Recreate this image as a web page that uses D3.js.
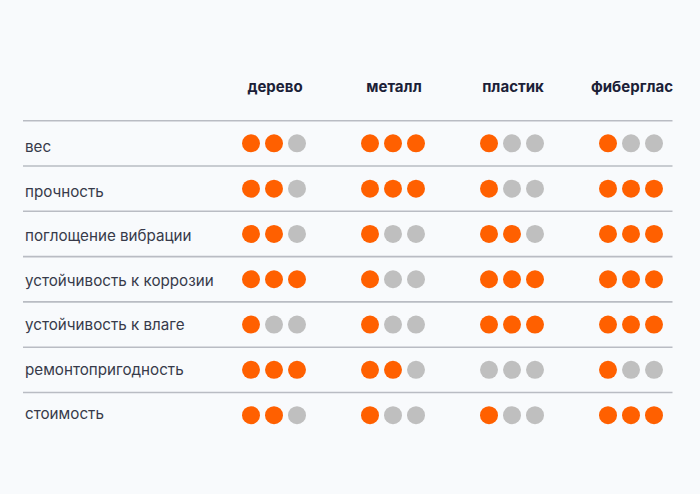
<!DOCTYPE html>
<html>
<head>
<meta charset="utf-8">
<script src="https://cdn.jsdelivr.net/npm/d3@7"></script>
<style>
  html, body { margin: 0; padding: 0; background: #f8fafc; }
  svg { display: block; }
</style>
</head>
<body>
<svg id="chart" width="700" height="494"></svg>
<script>
const materials = ["дерево", "металл", "пластик", "фиберглас"];
const properties = [
  "вес",
  "прочность",
  "поглощение вибрации",
  "устойчивость к коррозии",
  "устойчивость к влаге",
  "ремонтопригодность",
  "стоимость"
];
// score (0..3 filled dots) per property, per material
const wood       = [2, 2, 2, 3, 1, 3, 2];
const metal      = [3, 3, 1, 1, 1, 2, 1];
const plastic    = [1, 1, 2, 3, 3, 0, 1];
const fiberglass = [1, 3, 3, 3, 3, 1, 3];
const maxScore = 3;

const seriesByMaterial = [wood, metal, plastic, fiberglass];

const svg = d3.select("#chart");
const W = 700, H = 494;

svg.append("rect").attr("width", W).attr("height", H).attr("fill", "#f8fafc");

const x = d3.scaleBand().domain(materials).range([214.5, 690.5]).padding(0);
const y = d3.scaleBand().domain(properties).range([120.7, 120.7 + 45.3 * properties.length]).padding(0);
const labelY = d3.scalePoint().domain(properties).range([152, 419]);
const dotX = d3.scaleLinear().domain([0, maxScore - 1]).range([-23, 23]);

// headers
svg.append("g").selectAll("text")
  .data(materials)
  .join("text")
  .attr("x", d => x(d) + x.bandwidth() / 2 + 1)
  .attr("y", 92)
  .attr("text-anchor", "middle")
  .attr("font-family", "Inter, 'Noto Sans', sans-serif")
  .attr("font-weight", 700)
  .attr("font-size", 15)
  .attr("fill", "#1c1f38")
  .text(d => d);

// row separator lines
svg.append("g").selectAll("line")
  .data(properties)
  .join("line")
  .attr("x1", 23)
  .attr("x2", 672.5)
  .attr("y1", d => y(d))
  .attr("y2", d => y(d))
  .attr("stroke", "#b9bcc3")
  .attr("stroke-width", 1.6);

// row labels
svg.append("g").selectAll("text")
  .data(properties)
  .join("text")
  .attr("x", 25)
  .attr("y", d => labelY(d))
  .attr("font-family", "Inter, 'Noto Sans', sans-serif")
  .attr("font-size", 15.2)
  .attr("fill", "#373a4a")
  .text(d => d);

// dots
const cells = [];
properties.forEach((p, pi) => {
  materials.forEach((m, mi) => {
    for (let k = 0; k < maxScore; k++) {
      cells.push({ p, m, k, filled: k < seriesByMaterial[mi][pi] });
    }
  });
});

svg.append("g").selectAll("circle")
  .data(cells)
  .join("circle")
  .attr("cx", d => x(d.m) + x.bandwidth() / 2 + dotX(d.k))
  .attr("cy", d => y(d.p) + y.bandwidth() / 2)
  .attr("r", 9)
  .attr("fill", d => d.filled ? "#ff6000" : "#bfbfbf");
</script>
</body>
</html>
